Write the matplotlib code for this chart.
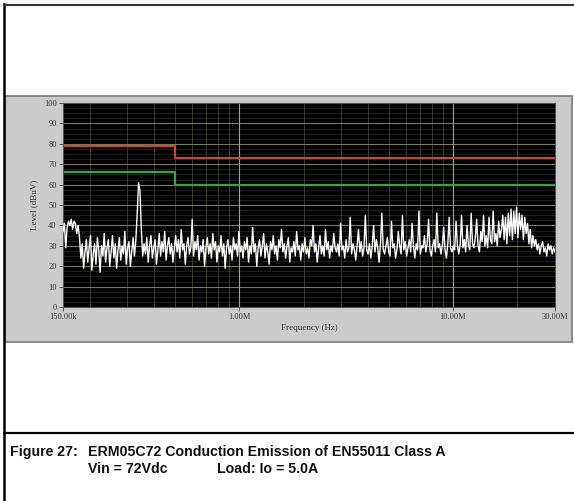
import numpy as np
import matplotlib.pyplot as plt
from matplotlib.lines import Line2D
from matplotlib.ticker import FixedLocator, NullFormatter

# measured level (dBuV), sweep from 150 kHz to 30 MHz
level_start = [37, 41, 29, 39, 42, 40, 43, 38, 42, 41, 36, 40]
level_low = [34, 24, 31, 19, 27, 33, 22, 29, 35, 18, 26, 31,
             21, 34, 28, 17, 30, 25, 36, 22, 29, 33, 20, 27,
             35, 24, 31, 19, 28, 34, 23, 30, 26, 37, 21, 29,
             32, 20, 27, 34, 25]
level_spike = [33, 46, 61, 57, 38, 25]
level_mid = [31, 26, 34, 22, 30, 35, 24, 29, 33, 21, 28, 36,
             25, 32, 27, 37, 23, 30, 34, 26, 31, 22, 29, 35,
             27, 33, 24, 38, 28, 31, 21, 30, 34, 26, 29, 43,
             25, 32, 28, 35, 23, 30, 27, 33, 20, 29, 34, 26,
             31, 24, 36, 28, 32, 22, 30, 27, 35, 25, 31, 19,
             29, 33, 26, 30, 23, 34, 28, 31, 25, 37, 27, 30,
             24, 32]
level_1m = [28, 34, 22, 30, 26, 39, 27, 31, 20, 29, 33, 25,
            30, 36, 24, 31, 27, 21, 32, 28, 35, 26, 30, 23,
            33, 29, 38, 27, 31, 24, 30, 34, 22, 29, 27, 32,
            25, 37, 28, 30, 23, 31, 27, 34, 26, 29, 24, 33,
            30, 40, 27, 31, 22, 29, 35, 26, 30, 25, 38, 28,
            32, 24, 30, 27, 36, 29]
level_3m = [27, 31, 25, 41, 28, 30, 24, 33, 27, 29, 44, 26,
            31, 28, 23, 30, 38, 27, 32, 25, 29, 45, 28, 26,
            31, 24, 30, 40, 27, 33, 29, 22, 31, 46, 28, 26,
            30, 34, 27, 25, 42, 29, 31, 24, 28, 37, 30, 26,
            45, 28, 32, 25, 29, 33, 27, 41, 30, 24, 31, 28,
            47, 26, 30, 29, 35, 27, 31, 43, 28, 25, 30, 33,
            27, 46, 29, 31, 26, 30, 39, 28, 24, 31, 44, 29,
            27, 30]
level_10m = [28, 42, 30, 26, 31, 45, 29, 33, 27, 40, 30, 28,
             46, 31, 29, 34, 43, 30, 27, 37, 32, 45, 30, 35,
             29, 44, 33, 31, 47, 32, 36, 30, 42, 34, 38, 45,
             33, 44, 31, 46, 35, 48, 33, 47, 36, 49, 34, 46,
             38, 45, 33, 44, 36, 41, 31, 38, 29, 35, 30, 33,
             28, 31, 26, 30, 32, 27, 29, 25, 31, 28, 30, 26,
             29, 27]

# EN55011 class A limits
limit_freq = [0.15e6, 0.5e6, 0.5e6, 30e6]
qp_limit = [79, 79, 73, 73]
avg_limit = [66, 66, 60, 60]

xtick_vals = [0.15e6, 1e6, 10e6, 30e6]
xtick_labels = ['150.00k', '1.00M', '10.00M', '30.00M']

levels = np.array(level_start + level_low + level_spike + level_mid
                  + level_1m + level_3m + level_10m, dtype=float)
freqs = np.geomspace(0.15e6, 30e6, len(levels))

W, H = 574, 501
fig = plt.figure(figsize=(W / 100, H / 100), dpi=100)
fig.patch.set_facecolor('white')

# grey instrument panel
panel = fig.add_axes([5 / W, 1 - 342 / H, 567 / W, 246 / H])
panel.set_facecolor('#cbcbcb')
panel.set_xticks([])
panel.set_yticks([])
for side in panel.spines.values():
    side.set_color('#8c8c8c')
    side.set_linewidth(1.5)

ax = fig.add_axes([63 / W, 1 - 307 / H, 492 / W, 204 / H])
ax.set_facecolor('black')
ax.set_xscale('log')
ax.set_xlim(0.15e6, 30e6)
ax.set_ylim(0, 100)

# grid
for lv in np.arange(2.5, 100, 2.5):
    if lv % 10:
        ax.axhline(lv, color='#242424', lw=0.6, zorder=1)
minor_x = [f * d for d in (1e5, 1e6, 1e7) for f in range(2, 10) if 0.15e6 < f * d < 30e6]
for f in minor_x:
    ax.axvline(f, color='#3a3a2e', lw=0.7, zorder=1.1)
for lv in range(10, 100, 10):
    ax.axhline(lv, color='#7c7b62', lw=0.8, zorder=1.2)
for f in (1e6, 10e6):
    ax.axvline(f, color='#a6a676', lw=0.8, zorder=1.3)

ax.plot(limit_freq, qp_limit, color='#c8453a', lw=1.6, zorder=2)
ax.plot(limit_freq, avg_limit, color='#3ca04a', lw=1.6, zorder=2)
ax.plot(freqs, levels, color='white', lw=1.0, zorder=3)

ax.xaxis.set_major_locator(FixedLocator(xtick_vals))
ax.set_xticklabels(xtick_labels)
ax.xaxis.set_minor_formatter(NullFormatter())
ax.xaxis.set_minor_locator(FixedLocator([]))
ax.set_yticks(range(0, 101, 10))
ax.tick_params(axis='both', colors='#444444', labelsize=6, length=3, width=0.6,
               labelcolor='#333333', pad=1.5)
for lab in ax.get_xticklabels() + ax.get_yticklabels():
    lab.set_family('Liberation Serif')
for side in ax.spines.values():
    side.set_color('#555555')
    side.set_linewidth(0.8)

ax.set_ylabel('Level (dBuV)', fontsize=6.5, family='Liberation Serif', color='#333333', labelpad=4)
ax.set_xlabel('Frequency (Hz)', fontsize=6.5, family='Liberation Serif', color='#333333', labelpad=2)

# page frame lines
fig.add_artist(Line2D([4 / W, 4 / W], [0, 1 - 4 / H], transform=fig.transFigure, color='black', lw=1.8))
fig.add_artist(Line2D([4 / W, 1], [1 - 5 / H, 1 - 5 / H], transform=fig.transFigure, color='#333333', lw=1.5))
fig.add_artist(Line2D([4 / W, 1], [1 - 433 / H, 1 - 433 / H], transform=fig.transFigure, color='black', lw=1.6))

cap = dict(fontsize=10.2, fontweight='bold', family=['Liberation Sans', 'DejaVu Sans'],
           color='#111111', va='center', ha='left')
fig.text(10 / W, 1 - 452 / H, 'Figure 27:', **cap)
fig.text(88 / W, 1 - 452 / H, 'ERM05C72 Conduction Emission of EN55011 Class A', **cap)
fig.text(88 / W, 1 - 469 / H, 'Vin = 72Vdc', **cap)
fig.text(217 / W, 1 - 469 / H, 'Load: Io = 5.0A', **cap)

fig.savefig('out.png', dpi=100)
